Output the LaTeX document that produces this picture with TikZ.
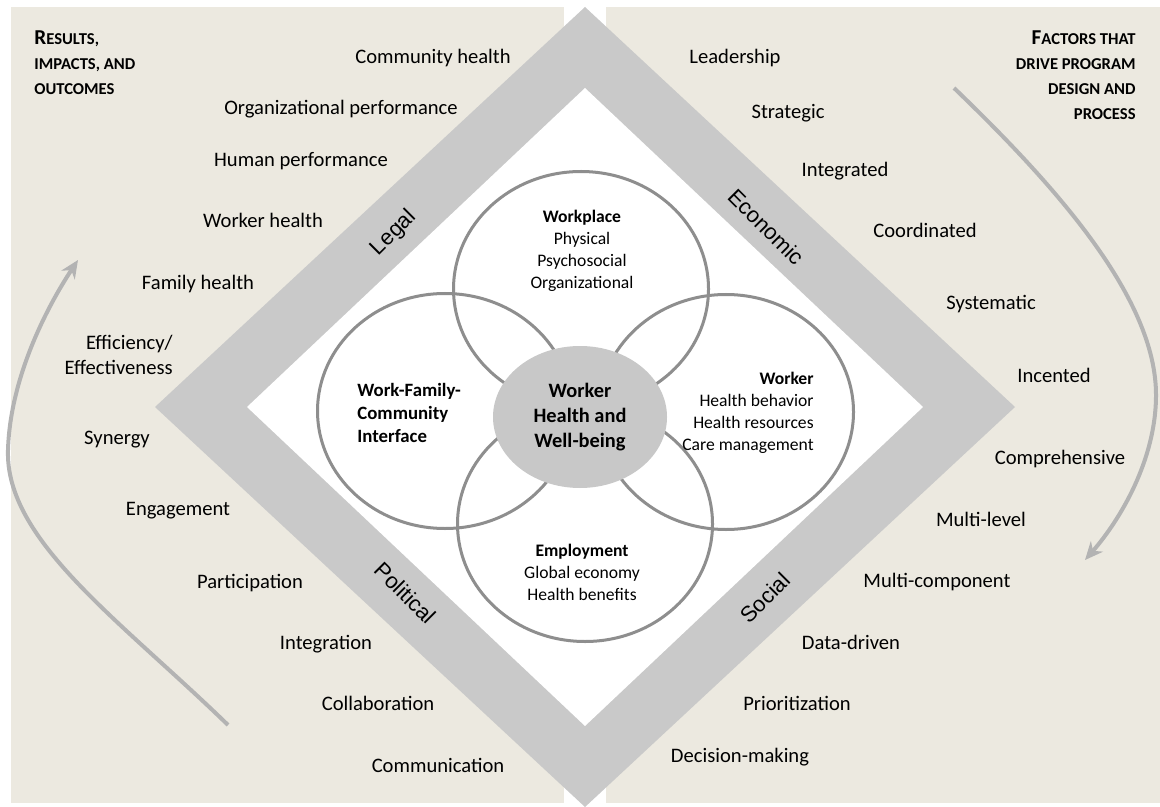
\documentclass[tikz,border=0pt]{standalone}
\usepackage{fontspec}
\setmainfont{Carlito}
\newfontfamily\bandfont{Liberation Sans}
\usetikzlibrary{arrows.meta,shapes.geometric}
\definecolor{panelcol}{HTML}{ECE9E0}
\definecolor{bandcol}{HTML}{C9C9C9}
\definecolor{ringcol}{HTML}{8E8E8E}
\definecolor{flowcol}{HTML}{B3B3B3}
\definecolor{corecol}{HTML}{C8C8C8}
\newcommand{\capfirst}[1]{{\fontsize{10.6}{12.5}\selectfont #1}}

\begin{document}
\begin{tikzpicture}[x=0.5pt,y=-0.5pt,
  item/.style={font=\fontsize{10.3}{12.5}\selectfont,inner sep=0pt,anchor=base},
  head/.style={font=\bfseries\fontsize{8.3}{12.5}\selectfont,inner sep=0pt},
  bandlabel/.style={font=\bandfont\fontsize{11}{13}\selectfont,inner sep=0pt},
  ringtext/.style={font=\fontsize{8.8}{11}\selectfont,inner sep=0pt},
  ringshape/.style={ellipse,draw=ringcol,line width=1.5pt,minimum width=127.5pt,minimum height=117.5pt,inner sep=0pt},
  flowarrow/.style={draw=flowcol,line width=2pt,-{Stealth[length=9pt,width=8pt]}}]
\useasboundingbox (0,0) rectangle (1160,807);
\fill[panelcol] (11,7) rectangle (564,803);
\fill[panelcol] (606,7) rectangle (1160,803);
\fill[bandcol] (585,7) -- (1015,407) -- (585,807) -- (155,407) -- cycle;
\fill[white] (585,88) -- (923,407) -- (585,726) -- (247,407) -- cycle;

\node[ringshape] (workplace) at (581,289) {};
\node[ringshape] (wfc) at (445,411) {};
\node[ringshape] (worker) at (726,412) {};
\node[ringshape] (employment) at (585,524) {};
\node[ellipse,fill=corecol,minimum width=87pt,minimum height=71pt,inner sep=0pt,align=center,
  font=\bfseries\fontsize{10.2}{12.4}\selectfont] (core) at (580,417) {Worker\\Health and\\Well-being};

\node[ringtext,align=center] (workplacetext) at (582,251) {\textbf{Workplace}\\Physical\\Psychosocial\\Organizational};
\node[ringtext,align=left,anchor=west,font=\bfseries\fontsize{9.4}{11.5}\selectfont] (wfctext) at (357,413) {Work-Family-\\Community\\Interface};
\node[ringtext,align=right,anchor=east] (workertext) at (814,413) {\textbf{Worker}\\Health behavior\\Health resources\\Care management};
\node[ringtext,align=center] (employmenttext) at (582,572) {\textbf{Employment}\\Global economy\\Health benefits};

\node[bandlabel,rotate=45] (legal) at (394,233) {Legal};
\node[bandlabel,rotate=-45] (economic) at (766,227) {Economic};
\node[bandlabel,rotate=-45] (political) at (405,593) {Political};
\node[bandlabel,rotate=45] (social) at (765,598) {Social};

\node[head,align=left,anchor=north west] (results) at (34,30) {\capfirst{R}ESULTS,\\IMPACTS, AND\\OUTCOMES};
\node[item] (r1) at (433,64) {Community health};
\node[item] (r2) at (341,115) {Organizational performance};
\node[item] (r3) at (301,167) {Human performance};
\node[item] (r4) at (263,228) {Worker health};
\node[item] (r5) at (198,290) {Family health};
\node[item,align=right,anchor=east] (r6) at (173,355) {Efficiency/\\Effectiveness};
\node[item] (r7) at (117,444) {Synergy};
\node[item] (r8) at (178,515) {Engagement};
\node[item] (r9) at (250,588) {Participation};
\node[item] (r10) at (326,649) {Integration};
\node[item] (r11) at (378,710) {Collaboration};
\node[item] (r12) at (438,772) {Communication};

\node[head,align=right,anchor=north east] (factors) at (1136,30) {\capfirst{F}ACTORS THAT\\DRIVE PROGRAM\\DESIGN AND\\PROCESS};
\node[item] (f1) at (735,64) {Leadership};
\node[item] (f2) at (788,119) {Strategic};
\node[item] (f3) at (845,177) {Integrated};
\node[item] (f4) at (925,238) {Coordinated};
\node[item] (f5) at (991,310) {Systematic};
\node[item] (f6) at (1054,382) {Incented};
\node[item] (f7) at (1060,464) {Comprehensive};
\node[item] (f8) at (981,526) {Multi-level};
\node[item] (f9) at (937,587) {Multi-component};
\node[item] (f10) at (851,649) {Data-driven};
\node[item] (f11) at (797,710) {Prioritization};
\node[item] (f12) at (740,762) {Decision-making};

\coordinate (resstart) at (228,725);
\coordinate (resend) at (78,260);
\draw[flowarrow] (resstart) .. controls (120,620) and (5,540) .. (8,450) .. controls (10,380) and (45,310) .. (resend);
\coordinate (facstart) at (954,88);
\coordinate (facend) at (1085,560);
\draw[flowarrow] (facstart) .. controls (1060,190) and (1156,300) .. (1156,395) .. controls (1156,460) and (1120,520) .. (facend);
\end{tikzpicture}
\end{document}
